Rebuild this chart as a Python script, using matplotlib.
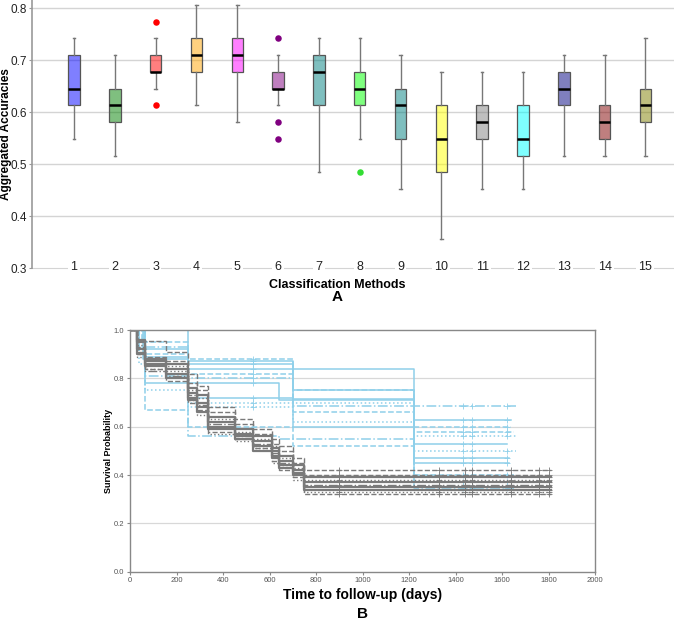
import numpy as np
import matplotlib
matplotlib.use("Agg")
import matplotlib.pyplot as plt

plt.rcParams['font.family'] = ['Liberation Sans', 'DejaVu Sans']

# ---- panel A: box summaries per classification method ----
METHODS = [str(i) for i in range(1, 16)]
WHISK_LO = [0.548, 0.516, 0.645, 0.613, 0.581, 0.613, 0.484, 0.548, 0.452, 0.355, 0.452, 0.452, 0.516, 0.516, 0.516]
Q1 = [0.613, 0.581, 0.677, 0.677, 0.677, 0.645, 0.613, 0.613, 0.548, 0.484, 0.548, 0.516, 0.613, 0.548, 0.581]
MEDIAN = [0.645, 0.613, 0.677, 0.710, 0.710, 0.645, 0.677, 0.645, 0.613, 0.548, 0.581, 0.548, 0.645, 0.581, 0.613]
Q3 = [0.710, 0.645, 0.710, 0.742, 0.742, 0.677, 0.710, 0.677, 0.645, 0.613, 0.613, 0.613, 0.677, 0.613, 0.645]
WHISK_HI = [0.742, 0.710, 0.742, 0.806, 0.806, 0.710, 0.742, 0.742, 0.710, 0.677, 0.677, 0.677, 0.710, 0.710, 0.742]
OUTLIERS = [[], [], [0.774, 0.613], [], [], [0.742, 0.581, 0.548], [], [0.484], [], [], [], [], [], [], []]
BOX_COLORS = ['blue', 'green', 'red', 'orange', 'magenta', 'purple', 'teal', 'lime', 'teal',
              'yellow', 'gray', 'cyan', 'navy', 'maroon', 'olive']
OUTLIER_COLORS = ['blue', 'green', 'red', 'orange', 'magenta', 'purple', 'teal', '#33dd33', 'teal',
                  'yellow', 'gray', 'cyan', 'navy', 'maroon', 'olive']

# ---- panel B: Kaplan-Meier style curves ----
GRAY_TIMES = [0, 30, 65, 155, 250, 290, 335, 450, 530, 610, 640, 700, 750]
GRAY_LEVELS = [
    [1.0, 0.95, 0.88, 0.86, 0.76, 0.73, 0.64, 0.59, 0.56, 0.51, 0.48, 0.44, 0.39],
    [1.0, 0.96, 0.87, 0.84, 0.74, 0.70, 0.62, 0.57, 0.54, 0.50, 0.46, 0.42, 0.37],
    [1.0, 0.92, 0.86, 0.82, 0.72, 0.68, 0.60, 0.56, 0.52, 0.48, 0.44, 0.41, 0.35],
    [1.0, 0.90, 0.85, 0.80, 0.71, 0.66, 0.59, 0.55, 0.50, 0.47, 0.43, 0.40, 0.34],
    [1.0, 0.96, 0.955, 0.91, 0.82, 0.77, 0.68, 0.63, 0.59, 0.55, 0.52, 0.47, 0.42],
    [1.0, 0.93, 0.89, 0.87, 0.78, 0.75, 0.66, 0.61, 0.57, 0.53, 0.50, 0.45, 0.40],
    [1.0, 0.90, 0.84, 0.79, 0.70, 0.67, 0.58, 0.55, 0.51, 0.46, 0.42, 0.39, 0.32],
    [1.0, 0.94, 0.88, 0.85, 0.75, 0.72, 0.63, 0.58, 0.55, 0.52, 0.47, 0.43, 0.38],
    [1.0, 0.91, 0.83, 0.81, 0.73, 0.69, 0.61, 0.56, 0.53, 0.49, 0.45, 0.41, 0.36],
    [1.0, 0.89, 0.84, 0.83, 0.71, 0.65, 0.57, 0.54, 0.51, 0.45, 0.44, 0.38, 0.33],
]
GRAY_STYLES = ['-', '-', '-', '-', '--', '--', '--', ':', '-.', ':']
GRAY_END = 1810
GRAY_CENSOR = [900, 1330, 1440, 1470, 1640, 1760, 1800]

BLUE_TIMES = [
    [0, 60, 250, 1220],
    [0, 40, 250, 700, 1220],
    [0, 55, 250, 640, 1220],
    [0, 65, 250, 700, 1220],
    [0, 250, 700, 1220],
    [0, 30, 250, 700],
    [0, 65, 250, 700, 1220],
    [0, 65, 250, 700, 1220],
    [0, 40, 250, 1220],
    [0, 65, 250, 640, 1220],
    [0, 40, 250, 700, 1220],
    [0, 50, 250, 700, 1220],
]
BLUE_LEVELS = [
    [1.0, 0.89, 0.837, 0.37],
    [1.0, 0.92, 0.86, 0.713, 0.47],
    [1.0, 0.88, 0.78, 0.71, 0.45],
    [1.0, 0.78, 0.72, 0.60, 0.53],
    [1.0, 0.87, 0.75, 0.628],
    [1.0, 0.93, 0.80, 0.686],
    [1.0, 0.75, 0.68, 0.62, 0.56],
    [1.0, 0.67, 0.60, 0.52, 0.40],
    [1.0, 0.86, 0.70, 0.50],
    [1.0, 0.81, 0.56, 0.55, 0.345],
    [1.0, 0.90, 0.82, 0.66, 0.58],
    [1.0, 0.95, 0.88, 0.75, 0.60],
]
BLUE_STYLES = ['-', '-', '-', '-', '-', '-.', ':', '--', ':', '-.', '--', '--']
BLUE_END = [1630, 1630, 1630, 1620, 1640, 1660, 1660, 1650, 1660, 1650, 1650, 1640]
BLUE_CENSOR = [530, 1430, 1470, 1620]

fig = plt.figure(figsize=(6.74, 6.2), dpi=100)

# ================= panel A =================
ax = fig.add_axes([0.0475, 0.5677, 0.9525, 0.4323])
positions = np.arange(1, 16)
stats = []
for i in range(15):
    stats.append(dict(med=MEDIAN[i], q1=Q1[i], q3=Q3[i], whislo=WHISK_LO[i],
                      whishi=WHISK_HI[i], fliers=OUTLIERS[i]))
bp = ax.bxp(stats, positions=positions, widths=0.28, patch_artist=True, showfliers=False,
            boxprops=dict(edgecolor='#555555', linewidth=0.9),
            medianprops=dict(color='black', linewidth=1.8),
            whiskerprops=dict(color='#777777', linewidth=1.0),
            capprops=dict(color='#777777', linewidth=1.0), capwidths=0.06)
for patch, c in zip(bp['boxes'], BOX_COLORS):
    patch.set_facecolor(matplotlib.colors.to_rgba(c, 0.5))
for i in range(15):
    if OUTLIERS[i]:
        ax.scatter([positions[i]] * len(OUTLIERS[i]), OUTLIERS[i], s=22,
                   color=OUTLIER_COLORS[i], zorder=3, linewidths=0)

for yv in [0.4, 0.5, 0.6, 0.7, 0.8]:
    ax.axhline(yv, color='#d4d4d4', linewidth=1.0, zorder=0)
ax.set_xlim(-0.03, 15.7)
ax.set_ylim(0.3, 0.816)
ax.set_yticks([0.3, 0.4, 0.5, 0.6, 0.7, 0.8])
ax.set_yticklabels(['0.3', '0.4', '0.5', '0.6', '0.7', '0.8'])
ax.set_xticks(positions)
ax.set_xticklabels(METHODS)
for s in ['top', 'right']:
    ax.spines[s].set_visible(False)
ax.spines['left'].set_color('#999999')
ax.spines['left'].set_linewidth(1.2)
ax.spines['bottom'].set_color('#d4d4d4')
ax.spines['bottom'].set_zorder(0.5)
ax.tick_params(axis='x', length=0, pad=-5, labelsize=9, labelcolor='#222222')
ax.tick_params(axis='y', length=2.5, color='#999999', labelsize=8.5, labelcolor='#222222', pad=1)
for lab in ax.get_xticklabels():
    lab.set_bbox(dict(facecolor='white', edgecolor='none', pad=1.5))
ax.set_ylabel('Aggregated Accuracies', fontsize=8.5, fontweight='bold')
ax.yaxis.set_label_coords(-0.031, 0.5)
fig.text(0.5, 1 - 285 / 620, 'Classification Methods', ha='center', va='center',
         fontsize=9, fontweight='bold')
fig.text(0.5, 1 - 297 / 620, 'A', ha='center', va='center', fontsize=11, fontweight='bold')

# ================= panel B =================
bx = fig.add_axes([0.1929, 0.0779, 0.690, 0.3898])
for yv in [0.2, 0.4, 0.6, 0.8]:
    bx.axhline(yv, color='#d8d8d8', linewidth=0.9, zorder=0)

BLUE = '#8fd0ea'
GRAY = '#7a7a7a'


def step_level(times, levels, t):
    idx = np.searchsorted(times, t, side='right') - 1
    return levels[idx]


for times, levels, ls, end in zip(BLUE_TIMES, BLUE_LEVELS, BLUE_STYLES, BLUE_END):
    xs = list(times) + [end]
    ys = list(levels) + [levels[-1]]
    bx.step(xs, ys, where='post', color=BLUE, linestyle=ls, linewidth=1.1, zorder=1)
    cx = [c for c in BLUE_CENSOR if c < end]
    bx.plot(cx, [step_level(times, levels, c) for c in cx], '+', color=BLUE,
            markersize=5, markeredgewidth=0.6, zorder=1)

for levels, ls in zip(GRAY_LEVELS, GRAY_STYLES):
    xs = list(GRAY_TIMES) + [GRAY_END]
    ys = list(levels) + [levels[-1]]
    lw = 1.6 if ls == '-' else 1.0
    bx.step(xs, ys, where='post', color=GRAY, linestyle=ls, linewidth=lw, zorder=2)
    bx.plot(GRAY_CENSOR, [step_level(GRAY_TIMES, levels, c) for c in GRAY_CENSOR], '+',
            color=GRAY, markersize=5, markeredgewidth=0.6, zorder=2)

bx.set_xlim(0, 2000)
bx.set_ylim(0, 1.0)
bx.set_xticks(np.arange(0, 2001, 200))
bx.set_yticks([0.0, 0.2, 0.4, 0.6, 0.8, 1.0])
bx.set_yticklabels(['0.0', '0.2', '0.4', '0.6', '0.8', '1.0'])
for s in bx.spines.values():
    s.set_color('#888888')
    s.set_linewidth(1.0)
bx.tick_params(labelsize=5.5, labelcolor='#555555', length=2, color='#888888', pad=2)
bx.set_ylabel('Survival Probability', fontsize=6.5, fontweight='bold')
bx.yaxis.set_label_coords(-0.037, 0.5)
fig.text(0.5385, 1 - 595 / 620, 'Time to follow-up (days)', ha='center', va='center',
         fontsize=10, fontweight='bold')
fig.text(0.5385, 1 - 614 / 620, 'B', ha='center', va='center', fontsize=11, fontweight='bold')

fig.savefig('out.png', dpi=100)
